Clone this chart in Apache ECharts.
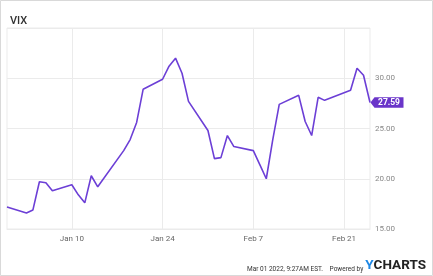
<!DOCTYPE html>
<html>
<head>
<meta charset="utf-8">
<script src="https://cdn.jsdelivr.net/npm/echarts@6/dist/echarts.min.js"></script>
<style>
html,body{margin:0;padding:0;background:#fff;}
#c{width:433px;height:276px;}
</style>
</head>
<body>
<div id="c"></div>
<script>
// ---- data ----
var dates = [
  '2021-12-31','2022-01-03','2022-01-04','2022-01-05','2022-01-06','2022-01-07',
  '2022-01-10','2022-01-11','2022-01-12','2022-01-13','2022-01-14',
  '2022-01-18','2022-01-19','2022-01-20','2022-01-21',
  '2022-01-24','2022-01-25','2022-01-26','2022-01-27','2022-01-28',
  '2022-01-31','2022-02-01','2022-02-02','2022-02-03','2022-02-04',
  '2022-02-07','2022-02-08','2022-02-09','2022-02-10','2022-02-11',
  '2022-02-14','2022-02-15','2022-02-16','2022-02-17','2022-02-18',
  '2022-02-22','2022-02-23','2022-02-24','2022-02-25'
];
var vixValues = [
  17.2, 16.6, 16.9, 19.7, 19.6, 18.8,
  19.4, 18.4, 17.6, 20.3, 19.2,
  22.8, 23.9, 25.6, 28.9,
  29.9, 31.2, 32.0, 30.5, 27.7,
  24.8, 22.0, 22.1, 24.3, 23.2,
  22.8, 21.4, 20.0, 23.9, 27.4,
  28.3, 25.7, 24.3, 28.1, 27.8,
  28.8, 31.0, 30.3, 27.59
];
var xTickLabels = ['2022-01-10','2022-01-24','2022-02-07','2022-02-21'];
var xRange = ['2021-12-31','2022-02-25'];
var yTicks = [15, 20, 25, 30];
var seriesName = 'VIX';
var lastLabel = '27.59';
var footerDate = 'Mar 01 2022, 9:27AM EST.';

// ---- helpers ----
var MONTHS = ['Jan','Feb','Mar','Apr','May','Jun','Jul','Aug','Sep','Oct','Nov','Dec'];
function ts(s){ var p = s.split('-'); return new Date(+p[0], +p[1]-1, +p[2]).getTime(); }
var lineData = dates.map(function(d,i){ return [ts(d), vixValues[i]]; });
var xTicks = xTickLabels.map(ts);
var last = lineData[lineData.length-1];

var chart = echarts.init(document.getElementById('c'), null, {renderer:'canvas'});
var gridColor = '#ebebeb';
chart.setOption({
  animation:false,
  backgroundColor:'#fff',
  title:{
    text: seriesName, left: 5, top: 11,
    textStyle:{fontFamily:'Roboto', fontSize:11, fontWeight:500, color:'#333'}
  },
  grid:{left:7, right:63, top:28, bottom:47, show:true, borderColor:gridColor, borderWidth:1},
  xAxis:{
    type:'value', min: ts(xRange[0]), max: ts(xRange[1]),
    axisLine:{show:true, lineStyle:{color:gridColor}},
    axisTick:{show:false, customValues: xTicks},
    axisLabel:{
      customValues: xTicks, margin:6,
      fontFamily:'Roboto', fontSize:8, color:'#666',
      formatter:function(v){ var d = new Date(v); return MONTHS[d.getMonth()] + ' ' + d.getDate(); }
    },
    splitLine:{show:false}
  },
  yAxis:{
    type:'value', position:'right', min:15, max:35, interval:5,
    axisLine:{show:false}, axisTick:{show:false},
    axisLabel:{
      margin:5, fontFamily:'Roboto', fontSize:8, color:'#888',
      formatter:function(v){ return yTicks.indexOf(v) >= 0 ? v.toFixed(2) : ''; }
    },
    splitLine:{show:true, lineStyle:{color:gridColor, width:1}}
  },
  series:[{
    name: seriesName, type:'line', data: lineData, showSymbol:false, symbol:'none',
    lineStyle:{color:'#6c3fd6', width:1.6},
    z:3,
    markLine:{
      silent:true, symbol:'none', label:{show:false},
      lineStyle:{color:gridColor, width:1, type:'solid'},
      z:1,
      data: xTicks.map(function(t){ return {xAxis:t}; })
    },
    markPoint:{
      silent:true,
      symbol:'path://M0,5 L4,0 L33,0 L33,10 L4,10 Z',
      symbolSize:[33,10.5], symbolKeepAspect:false, symbolOffset:[17,0],
      itemStyle:{color:'#6a35c9'},
      label:{show:true, position:'inside', offset:[2,0], formatter: lastLabel,
        fontFamily:'Roboto', fontSize:8.5, fontWeight:'bold', color:'#fff'},
      data:[{coord: last, value: last[1]}]
    }
  }],
  graphic:[
    {type:'rect', shape:{x:0.5, y:0.5, width:432, height:275}, style:{fill:null, stroke:'#d9d9d9', lineWidth:1}, silent:true},
    {type:'text', right:7, top:259, style:{
      text:'{a|' + footerDate + '}  {b|Powered by}{y|Y}{c|CHARTS}',
      rich:{
        a:{fontFamily:'Roboto', fontSize:6.5, fill:'#333', verticalAlign:'bottom'},
        b:{fontFamily:'Roboto', fontSize:6.5, fill:'#333', verticalAlign:'bottom', padding:[0,2,0,0]},
        y:{fontFamily:'Roboto', fontSize:13.5, fontWeight:'bold', fill:'#1e88e5', verticalAlign:'bottom'},
        c:{fontFamily:'Roboto', fontSize:13.5, fontWeight:'bold', fill:'#222', verticalAlign:'bottom'}
      }
    }}
  ]
});
</script>
</body>
</html>
